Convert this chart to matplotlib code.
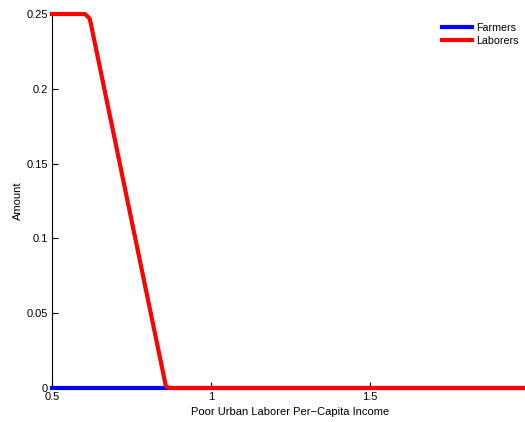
import numpy as np
import matplotlib
matplotlib.use("Agg")
import matplotlib.pyplot as plt
from matplotlib.ticker import FormatStrFormatter

plt.rcParams['font.family'] = ['Liberation Sans', 'DejaVu Sans']

# income grid and amounts
farm_x = [0.5, 2.0]
farm_y = [0.0, 0.0]
lab_x = [0.5, 0.604, 0.619, 0.858, 0.868, 2.0]
lab_y = [0.25, 0.25, 0.2467, 0.0013, 0.0, 0.0]

fig = plt.figure(figsize=(5.25, 4.22), dpi=100)
ax = fig.add_axes([52 / 525, 34 / 422, 477 / 525, 374 / 422])

ax.plot(farm_x, farm_y, color='#0000ff', lw=3, label='Farmers', clip_on=False, zorder=3)
ax.plot(lab_x, lab_y, color='#ff0000', lw=3, label='Laborers', clip_on=False, zorder=4)

ax.set_xlim(0.5, 2.0)
ax.set_ylim(0, 0.25)
ax.set_xticks([0.5, 1, 1.5, 2])
ax.set_xticklabels(['0.5', '1', '1.5', ''])  # last one falls off the canvas
ax.set_yticks([0, 0.05, 0.1, 0.15, 0.2, 0.25])
ax.yaxis.set_major_formatter(FormatStrFormatter('%g'))
ax.tick_params(direction='in', length=4, width=0.8, labelsize=8, colors='black', pad=3)

for s in ['top', 'right']:
    ax.spines[s].set_visible(False)
for s in ['left', 'bottom']:
    ax.spines[s].set_linewidth(0.8)

ax.set_xlabel('Poor Urban Laborer Per\u2212Capita Income', fontsize=8, labelpad=3.5)
ax.set_ylabel('Amount', fontsize=8, labelpad=2.5)

ax.legend(loc='upper right', bbox_to_anchor=(519 / 525, 1 - 23 / 422),
          bbox_transform=fig.transFigure, frameon=False, fontsize=7.7,
          handlelength=2.8, handletextpad=0.4, labelspacing=0.3,
          borderpad=0, borderaxespad=0)

fig.savefig('out.png', dpi=100)
